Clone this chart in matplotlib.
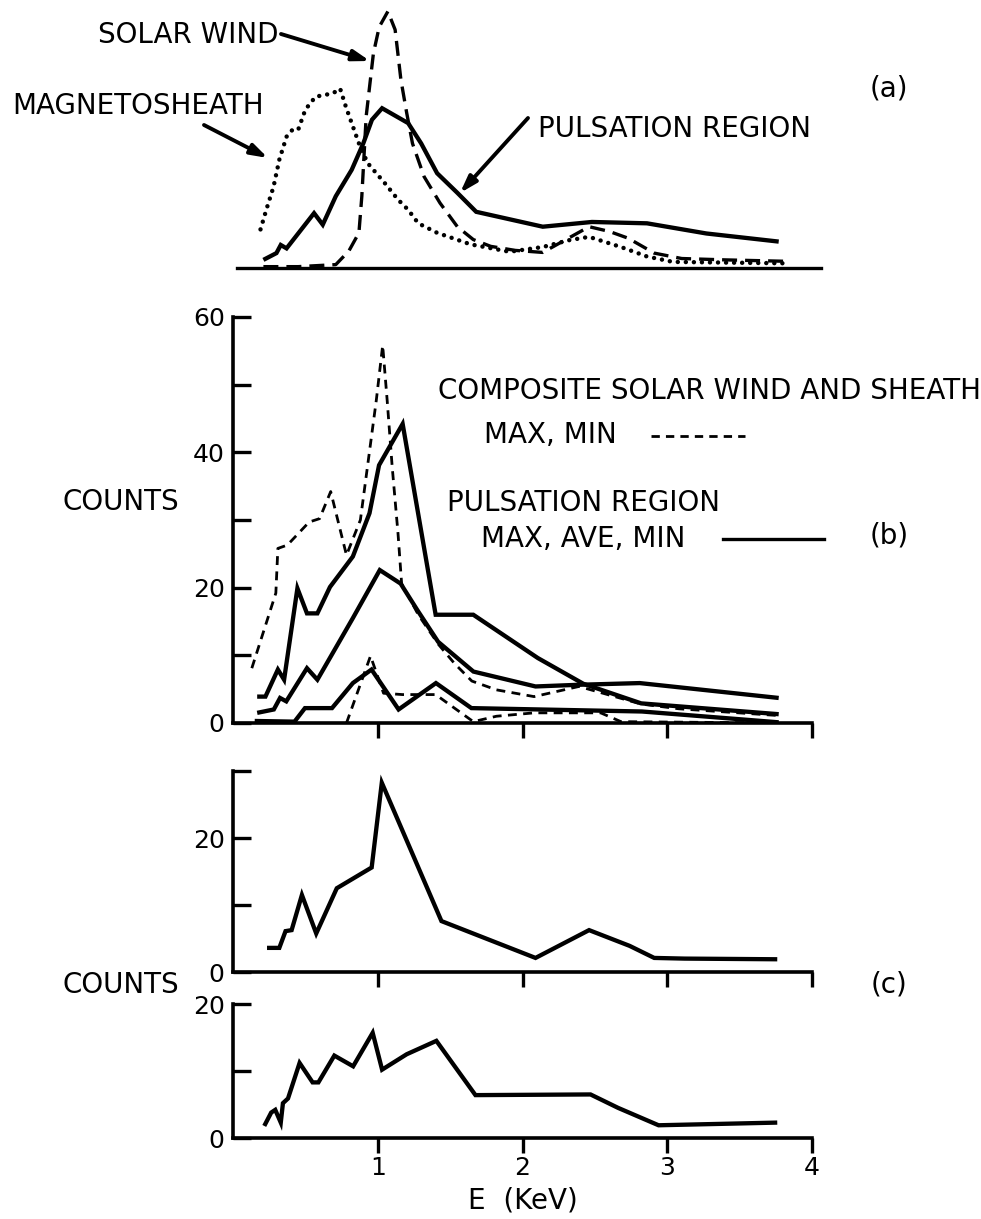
import matplotlib
matplotlib.use('Agg')
import matplotlib.pyplot as plt
from matplotlib.lines import Line2D

plt.rcParams['font.family'] = ['DejaVu Sans']

# ---------------- data (E in keV, counts) ----------------
# panel (a)
a_wind_E = [0.21, 0.45, 0.71, 0.80, 0.87, 0.89, 0.92, 0.97, 1.01, 1.07, 1.12, 1.16, 1.20, 1.24, 1.32,
            1.43, 1.55, 1.66, 1.78, 1.95, 2.14, 2.30, 2.46, 2.60, 2.73, 2.91, 3.10, 3.40, 3.80]
a_wind_C = [0.2, 0.2, 0.5, 2.5, 5.2, 10.6, 22.4, 31.7, 35.6, 37.9, 35.2, 27.8, 22.9, 18.4, 13.5,
            9.6, 6.1, 4.2, 3.2, 2.6, 2.3, 4.2, 6.1, 5.4, 4.4, 2.2, 1.4, 1.2, 1.0]
a_sheath_E = [0.19, 0.23, 0.28, 0.32, 0.37, 0.41, 0.45, 0.50, 0.57, 0.69, 0.74, 0.78, 0.82, 0.87, 0.93,
              1.05, 1.14, 1.21, 1.28, 1.41, 1.64, 1.91, 2.14, 2.32, 2.46, 2.68, 2.86, 3.04, 3.40, 3.80]
a_sheath_C = [5.7, 8.6, 12.0, 16.0, 19.4, 20.4, 20.4, 23.4, 25.3, 25.8, 26.5, 23.8, 21.4, 18.4, 15.5,
              12.5, 10.1, 8.6, 6.6, 5.2, 3.5, 2.4, 3.1, 4.1, 4.6, 3.1, 1.7, 0.9, 0.8, 0.7]
a_puls_E = [0.21, 0.30, 0.33, 0.37, 0.56, 0.62, 0.71, 0.82, 0.90, 0.96, 1.03, 1.21, 1.30, 1.41, 1.55,
            1.68, 2.14, 2.48, 2.86, 3.27, 3.77]
a_puls_C = [1.2, 2.2, 3.4, 2.9, 8.1, 6.4, 10.6, 14.5, 18.4, 21.9, 23.6, 21.4, 18.4, 14.0, 11.1,
            8.3, 6.1, 6.8, 6.6, 5.1, 3.9]

# panel (b) pulsation region
b_max_E = [0.167, 0.224, 0.31, 0.353, 0.445, 0.511, 0.583, 0.67, 0.828, 0.943, 1.009, 1.172, 1.40,
           1.66, 2.106, 2.42, 2.82, 3.77]
b_max_C = [3.9, 3.9, 7.9, 6.4, 19.9, 16.2, 16.2, 20.1, 24.6, 31.0, 38.1, 44.2, 16.0,
           16.0, 9.6, 5.8, 2.9, 1.3]
b_ave_E = [0.167, 0.282, 0.325, 0.368, 0.511, 0.583, 0.828, 1.014, 1.158, 1.273, 1.417, 1.661, 2.09,
           2.39, 2.81, 3.77]
b_ave_C = [1.5, 2.0, 3.7, 3.2, 8.1, 6.4, 15.5, 22.6, 20.6, 16.7, 12.0, 7.6, 5.4,
           5.65, 5.9, 3.7]
b_min_E = [0.15, 0.425, 0.497, 0.684, 0.828, 0.957, 1.144, 1.402, 1.647, 2.825, 3.77]
b_min_C = [0.3, 0.2, 2.2, 2.2, 5.9, 7.9, 2.0, 5.9, 2.2, 1.7, 0.1]
# panel (b) composite solar wind and sheath
b_cmax_E = [0.13, 0.296, 0.31, 0.376, 0.526, 0.598, 0.675, 0.784, 0.88, 0.99, 1.034, 1.065, 1.10,
            1.14, 1.165, 1.28, 1.42, 1.53, 1.65, 1.82, 2.08, 2.39, 2.82, 3.08, 3.77]
b_cmax_C = [8.1, 19.2, 25.8, 26.3, 29.7, 30.2, 34.2, 24.8, 30.0, 47.7, 55.8, 47.7, 37.8,
            28.0, 20.6, 16.0, 11.6, 8.8, 6.2, 4.9, 3.9, 5.4, 2.8, 2.1, 1.1]
b_cmin_E = [0.784, 0.95, 1.04, 1.17, 1.40, 1.66, 1.82, 2.08, 2.54, 2.68, 3.77]
b_cmin_C = [0.0, 9.9, 4.4, 4.2, 4.2, 0.2, 1.0, 1.5, 1.5, 0.2, 0.0]

# panel (c)
c1_E = [0.235, 0.32, 0.363, 0.405, 0.476, 0.575, 0.717, 0.958, 1.028, 1.44, 2.09, 2.46, 2.74,
        2.91, 3.12, 3.76]
c1_C = [3.6, 3.6, 6.1, 6.25, 11.5, 5.75, 12.5, 15.6, 28.25, 7.6, 2.1, 6.25, 3.9,
        2.1, 2.0, 1.9]
c2_E = [0.216, 0.264, 0.292, 0.33, 0.345, 0.38, 0.46, 0.55, 0.59, 0.70, 0.83, 0.965, 1.03, 1.20,
        1.405, 1.675, 2.47, 2.66, 2.94, 3.76]
c2_C = [1.8, 3.8, 4.2, 2.3, 5.2, 5.9, 11.2, 8.3, 8.3, 12.3, 10.7, 15.7, 10.2, 12.5,
        14.5, 6.4, 6.5, 4.5, 1.9, 2.3]

x_ticks = [1, 2, 3, 4]
x_tick_labels = ['1', '2', '3', '4']

# ---------------- layout ----------------
W, H = 981, 1219
fig = plt.figure(figsize=(W / 100, H / 100), dpi=100)


def fx(px):
    return px / W


def fy(py):
    return 1 - py / H


XL, XR = 233, 812


def make_axes(top_px, bottom_px):
    return fig.add_axes([fx(XL), fy(bottom_px), fx(XR) - fx(XL), (bottom_px - top_px) / H])


SOLID = dict(color='black', lw=3.1, solid_joinstyle='miter', solid_capstyle='butt')
DASH_B = dict(color='black', lw=2.0, linestyle=(0, (3.2, 2.3)))
TXT = dict(fontsize=20, color='black')
TICKFS = 18


def style_axes(ax, ymax, major, minor, show_xlabels):
    ax.set_xlim(0, 4)
    ax.set_ylim(0, ymax)
    for s in ['top', 'right']:
        ax.spines[s].set_visible(False)
    for s in ['left', 'bottom']:
        ax.spines[s].set_linewidth(2.6)
        ax.spines[s].set_capstyle('projecting')
    ax.set_xticks(x_ticks)
    ax.set_xticklabels(x_tick_labels if show_xlabels else [])
    ax.set_yticks(major)
    ax.set_yticks(minor, minor=True)
    ax.tick_params(axis='x', direction='out', length=11, width=2.4, labelsize=TICKFS, pad=2)
    ax.tick_params(axis='y', which='both', direction='in', length=13, width=2.4, labelsize=TICKFS, pad=6)
    ax.tick_params(axis='x', which='minor', length=0)
    ax.set_facecolor('none')


# ---- panel (a)
axa = make_axes(0, 268)
axa.set_xlim(0, 4)
axa.set_ylim(0, 268 / 6.77)
axa.axis('off')
axa.axhline(0, xmin=0.007, xmax=(821 - XL) / (XR - XL), color='black', lw=2.4, clip_on=False)
axa.plot(a_sheath_E, a_sheath_C, color='black', lw=3.2, linestyle=(0, (0.01, 1.8)),
         dash_capstyle='round', clip_on=False)
axa.plot(a_wind_E, a_wind_C, color='black', lw=2.4, linestyle=(0, (4.5, 2.4)), clip_on=False)
axa.plot(a_puls_E, a_puls_C, clip_on=False, **SOLID)

arrow = dict(arrowstyle='-|>,head_length=1.0,head_width=0.32', lw=2.8, color='black',
             shrinkA=0, shrinkB=0)
fig.text(fx(279), fy(35), 'SOLAR WIND', ha='right', va='center', **TXT)
axa.annotate('', xy=(fx(370), fy(61)), xytext=(fx(281), fy(34)),
             xycoords='figure fraction', textcoords='figure fraction', arrowprops=arrow)
fig.text(fx(12), fy(106), 'MAGNETOSHEATH', ha='left', va='center', **TXT)
axa.annotate('', xy=(fx(268), fy(158)), xytext=(fx(204), fy(125)),
             xycoords='figure fraction', textcoords='figure fraction', arrowprops=arrow)
fig.text(fx(538), fy(129), 'PULSATION REGION', ha='left', va='center', **TXT)
axa.annotate('', xy=(fx(460), fy(193)), xytext=(fx(528), fy(118)),
             xycoords='figure fraction', textcoords='figure fraction', arrowprops=arrow)
fig.text(fx(889), fy(88), '(a)', ha='center', va='center', **TXT)

# ---- panel (b)
axb = make_axes(317, 723)
style_axes(axb, 60, [0, 20, 40, 60], [10, 30, 50], False)
axb.plot(b_cmax_E, b_cmax_C, **DASH_B)
axb.plot(b_cmin_E, b_cmin_C, **DASH_B)
axb.plot(b_max_E, b_max_C, **SOLID)
axb.plot(b_ave_E, b_ave_C, **SOLID)
axb.plot(b_min_E, b_min_C, **SOLID)

fig.text(fx(62), fy(502), 'COUNTS', ha='left', va='center', **TXT)
fig.text(fx(438), fy(391), 'COMPOSITE SOLAR WIND AND SHEATH', ha='left', va='center', **TXT)
fig.text(fx(484), fy(435), 'MAX, MIN', ha='left', va='center', **TXT)
fig.add_artist(Line2D([fx(651), fx(745)], [fy(436), fy(436)], transform=fig.transFigure,
                      color='black', lw=2.0, linestyle=(0, (3, 2.2))))
fig.text(fx(447), fy(503), 'PULSATION REGION', ha='left', va='center', **TXT)
fig.text(fx(481), fy(539), 'MAX, AVE, MIN', ha='left', va='center', **TXT)
fig.add_artist(Line2D([fx(723), fx(824)], [fy(539), fy(539)], transform=fig.transFigure,
                      color='black', lw=2.4))
fig.text(fx(889), fy(535), '(b)', ha='center', va='center', **TXT)

# ---- panel (c)
axc1 = make_axes(771, 972)
style_axes(axc1, 30, [0, 20], [10, 30], False)
axc1.plot(c1_E, c1_C, **SOLID)

axc2 = make_axes(1004, 1138)
style_axes(axc2, 20, [0, 20], [10], True)
axc2.plot(c2_E, c2_C, **SOLID)
axc2.set_xlabel('E  (KeV)', fontsize=20, labelpad=5)

fig.text(fx(62), fy(985), 'COUNTS', ha='left', va='center', **TXT)
fig.text(fx(889), fy(985), '(c)', ha='center', va='center', **TXT)

fig.savefig('out.png', dpi=100, facecolor='white')
